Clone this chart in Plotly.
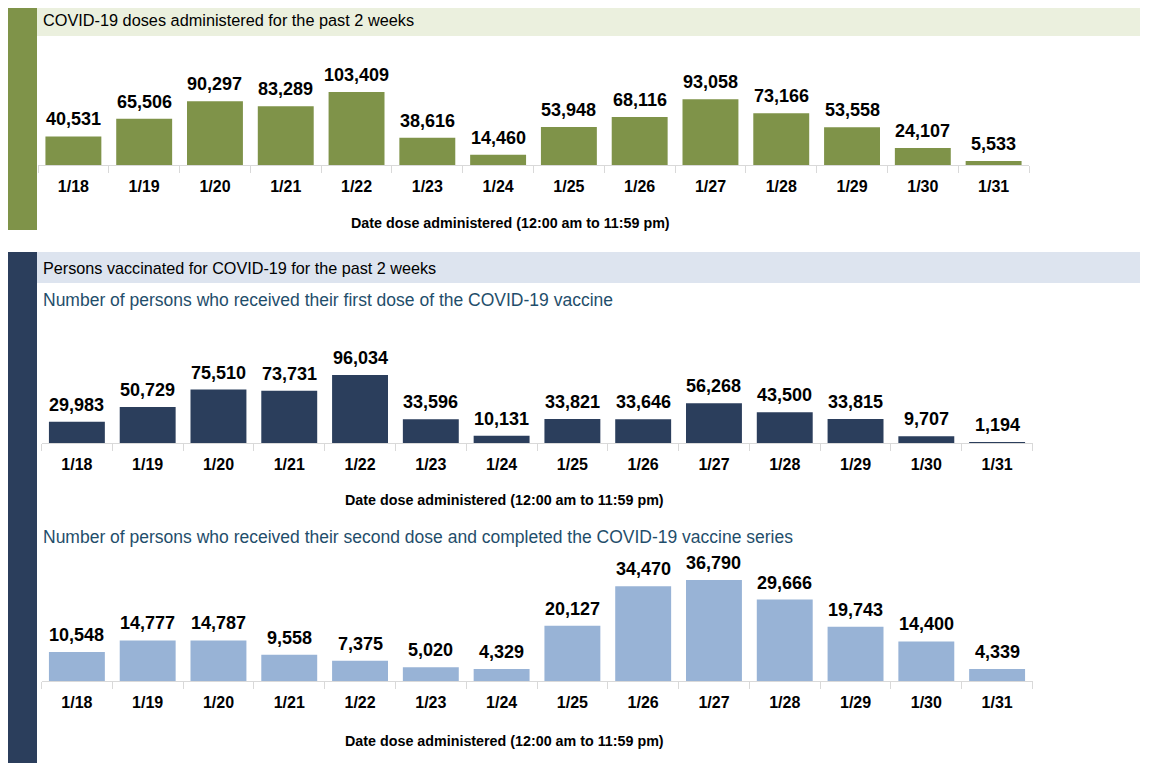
import plotly.graph_objects as go

dates = ["1/18", "1/19", "1/20", "1/21", "1/22", "1/23", "1/24",
         "1/25", "1/26", "1/27", "1/28", "1/29", "1/30", "1/31"]
doses_total = [40531, 65506, 90297, 83289, 103409, 38616, 14460,
               53948, 68116, 93058, 73166, 53558, 24107, 5533]
first_dose = [29983, 50729, 75510, 73731, 96034, 33596, 10131,
              33821, 33646, 56268, 43500, 33815, 9707, 1194]
second_dose = [10548, 14777, 14787, 9558, 7375, 5020, 4329,
               20127, 34470, 36790, 29666, 19743, 14400, 4339]

header1 = "COVID-19 doses administered for the past 2 weeks"
header2 = "Persons vaccinated for COVID-19 for the past 2 weeks"
sub1 = "Number of persons who received their first dose of the COVID-19 vaccine"
sub2 = "Number of persons who received their second dose and completed the COVID-19 vaccine series"
axis_title = "Date dose administered (12:00 am to 11:59 pm)"

# page body has an 8px margin; figure sized to fit inside the window
OFF = 8
FW, FH = 1146, 760
OLIVE = "#7F9349"
OLIVE_LIGHT = "#EBF0DE"
NAVY = "#2B3E5C"
BLUE_LIGHT = "#DDE4EF"
LIGHT_BAR = "#98B3D6"
SUB_COLOR = "#1F4E6B"
AXIS_GREY = "#D9D9D9"

SANS = "Liberation Sans, Arial, sans-serif"


def px(x):
    return (x - OFF) / FW


def py(y):
    return 1 - (y - OFF) / FH


fig = go.Figure()

# (data, color, axis suffix, x-domain px, baseline px, top px, max bar top px)
panels = [
    (doses_total, OLIVE, "", (38, 1029), 165, 40, 92),
    (first_dose, NAVY, "2", (41.5, 1032.5), 443, 320, 375),
    (second_dose, LIGHT_BAR, "3", (41.5, 1032.5), 681, 560, 580),
]

layout_axes = {}
annotations = []
for data, color, sfx, (x0, x1), base, top, maxtop in panels:
    fig.add_trace(go.Bar(
        x=dates, y=data, marker=dict(color=color, line=dict(width=0)),
        hoverinfo="x+y", xaxis="x" + sfx, yaxis="y" + sfx, showlegend=False,
    ))
    for d, v in zip(dates, data):
        annotations.append(dict(
            text=f"<b>{v:,}</b>", x=d, y=v, xref="x" + sfx, yref="y" + sfx,
            xanchor="center", yanchor="bottom", yshift=5, showarrow=False,
            font=dict(family=SANS, size=18, color="black"),
        ))
    rng = max(data) * (base - top) / (base - maxtop)
    layout_axes["xaxis" + sfx] = dict(
        domain=[px(x0), px(x1)], anchor="y" + sfx, type="category",
        showline=True, linecolor=AXIS_GREY, linewidth=1,
        ticks="outside", tickson="boundaries", ticklen=7, tickcolor=AXIS_GREY,
        showgrid=False, zeroline=False,
        tickfont=dict(family=SANS, size=16, color="black", weight="bold"),
        ticklabelstandoff=7,
    )
    layout_axes["yaxis" + sfx] = dict(
        domain=[py(base), py(top)], anchor="x" + sfx, range=[0, rng],
        visible=False, showgrid=False, zeroline=False,
    )

shapes = [
    # olive sidebar and header band
    dict(type="rect", xref="paper", yref="paper", x0=px(8), x1=px(37), y0=py(230), y1=py(8),
         fillcolor=OLIVE, line=dict(width=0), layer="below"),
    dict(type="rect", xref="paper", yref="paper", x0=px(37), x1=px(1140), y0=py(36), y1=py(8),
         fillcolor=OLIVE_LIGHT, line=dict(width=0), layer="below"),
    # navy sidebar and header band
    dict(type="rect", xref="paper", yref="paper", x0=px(8), x1=px(37), y0=py(763), y1=py(252),
         fillcolor=NAVY, line=dict(width=0), layer="below"),
    dict(type="rect", xref="paper", yref="paper", x0=px(37), x1=px(1140), y0=py(283), y1=py(252),
         fillcolor=BLUE_LIGHT, line=dict(width=0), layer="below"),
]

texts = [
    dict(text=header1, x=px(41), y=py(20), xanchor="left", yanchor="middle",
         font=dict(family=SANS, size=16.3, color="black")),
    dict(text=header2, x=px(41), y=py(268), xanchor="left", yanchor="middle",
         font=dict(family=SANS, size=16.2, color="black")),
    dict(text=sub1, x=px(41), y=py(300), xanchor="left", yanchor="middle",
         font=dict(family=SANS, size=17.5, color=SUB_COLOR)),
    dict(text=sub2, x=px(41), y=py(537), xanchor="left", yanchor="middle",
         font=dict(family=SANS, size=17.5, color=SUB_COLOR)),
    dict(text=axis_title, x=px(510), y=py(223), xanchor="center", yanchor="middle",
         font=dict(family=SANS, size=14.3, color="black", weight="bold")),
    dict(text=axis_title, x=px(504), y=py(500), xanchor="center", yanchor="middle",
         font=dict(family=SANS, size=14.3, color="black", weight="bold")),
    dict(text=axis_title, x=px(504), y=py(741), xanchor="center", yanchor="middle",
         font=dict(family=SANS, size=14.3, color="black", weight="bold")),
]
for a in texts:
    a.update(xref="paper", yref="paper", showarrow=False)
annotations.extend(texts)

fig.update_layout(
    width=FW, height=FH, margin=dict(l=0, r=0, t=0, b=0),
    paper_bgcolor="white", plot_bgcolor="white",
    bargap=0.21, shapes=shapes, annotations=annotations,
    **layout_axes,
)

fig.write_html("out.html")
